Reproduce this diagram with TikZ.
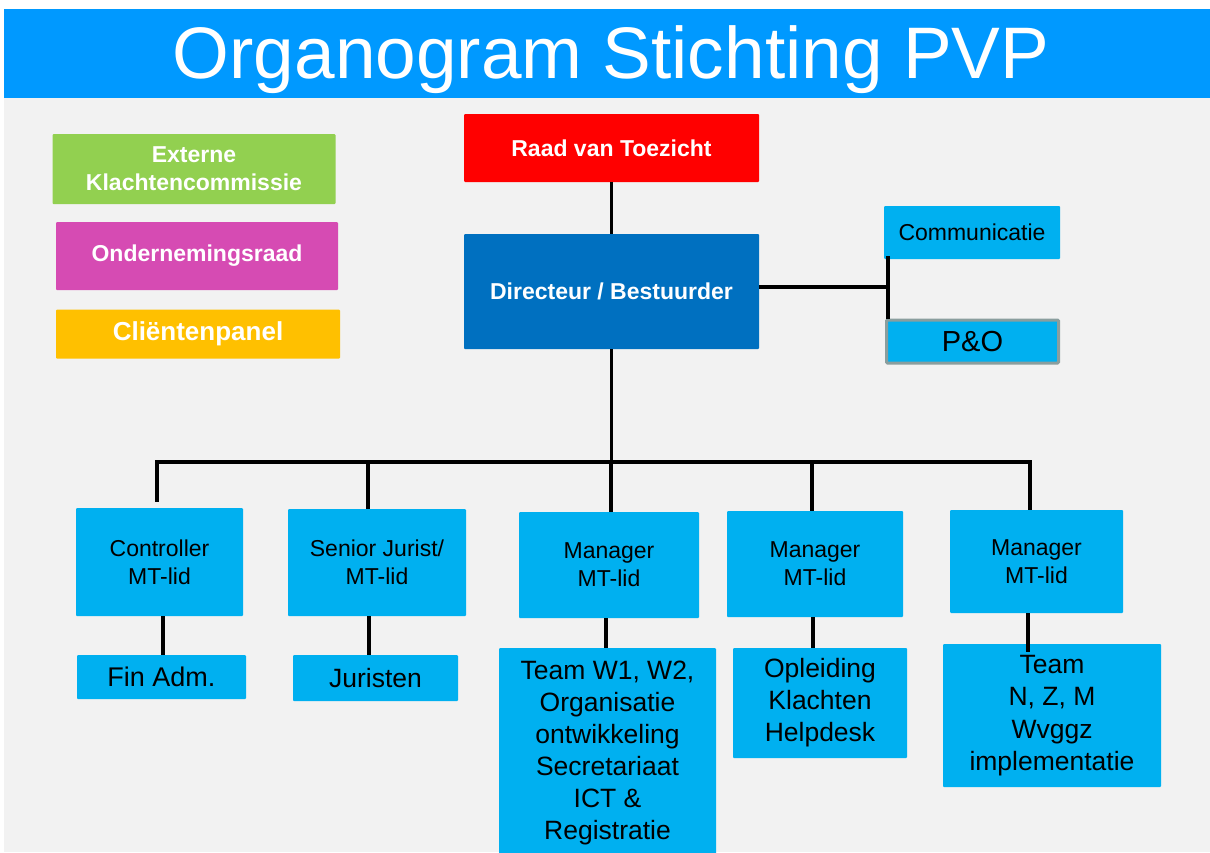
\documentclass[tikz,border=0pt]{standalone}
\usepackage{fontspec}
\setmainfont{Liberation Sans}
\usetikzlibrary{calc}
\definecolor{titleblue}{HTML}{0099FF}
\definecolor{bggray}{HTML}{F2F2F2}
\definecolor{lblue}{HTML}{00B0F0}
\definecolor{dblue}{HTML}{0070C0}
\definecolor{rvtred}{HTML}{FF0000}
\definecolor{lgreen}{HTML}{92D050}
\definecolor{magen}{HTML}{D64BB3}
\definecolor{amber}{HTML}{FFC000}
\definecolor{pogray}{HTML}{8A9E9E}
\begin{document}
\begin{tikzpicture}[x=1pt,y=-1pt,
  box/.style={inner sep=0pt, align=center, rounded corners=1pt},
  lb/.style={box, fill=lblue, text=black},
  mt/.style={lb, font=\fontsize{23}{28}\selectfont},
  sub/.style={lb, font=\fontsize{26.5}{32}\selectfont},
  leg/.style={box, text=white, font=\bfseries\fontsize{23}{28}\selectfont},
  conn/.style={line width=3.5pt, black}]
\useasboundingbox (0,0) rectangle (1210,852);
\fill[white] (0,0) rectangle (1210,852);
\fill[bggray] (4,98) rectangle (1210,852);
\fill[titleblue] (4,9) rectangle (1210,98);
\node[anchor=base, text=white, inner sep=0pt, font=\fontsize{73}{80}\selectfont] (title) at (611,78) {Organogram Stichting PVP};

% legend boxes
\node[leg, fill=lgreen, minimum width=283pt, minimum height=70pt] (ekc) at (194,169) {Externe\\Klachtencommissie};
\node[leg, fill=magen, minimum width=282pt, minimum height=68pt] (or) at (197,256) {Ondernemingsraad};
\node[leg, fill=amber, minimum width=284pt, minimum height=49pt, font=\bfseries\fontsize{26}{30}\selectfont] (cp) at (198,334) {Cliëntenpanel};

% top
\node[leg, fill=rvtred, minimum width=295pt, minimum height=68pt] (rvt) at (611.5,148) {Raad van Toezicht};
\node[leg, fill=dblue, minimum width=295pt, minimum height=115pt] (dir) at (611.5,291.5) {Directeur / Bestuurder};
\node[mt, minimum width=176pt, minimum height=53pt] (comm) at (972,232.5) {Communicatie};
\node[lb, draw=pogray, line width=3pt, minimum width=172pt, minimum height=43pt, font=\fontsize{29}{34}\selectfont] (po) at (972.5,341.5) {P\&O};

% managers
\node[mt, minimum width=167pt, minimum height=108pt] (ctrl) at (159.5,562) {Controller\\MT-lid};
\node[mt, minimum width=178pt, minimum height=107pt] (snr) at (377,562.5) {Senior Jurist/\\MT-lid};
\node[mt, minimum width=180pt, minimum height=106pt] (man1) at (609,565) {Manager\\MT-lid};
\node[mt, minimum width=176pt, minimum height=106pt] (man2) at (815,564) {Manager\\MT-lid};
\node[mt, minimum width=173pt, minimum height=103pt] (man3) at (1036.5,561.5) {Manager\\MT-lid};

% sub boxes
\node[sub, minimum width=169pt, minimum height=44pt, font=\fontsize{27}{32}\selectfont] (fin) at (161.5,677) {Fin Adm.};
\node[sub, minimum width=165pt, minimum height=46pt] (jur) at (375.5,678) {Juristen};
\node[sub, minimum width=217pt, minimum height=210pt] (team1) at (607.5,753) {Team W1, W2,\\Organisatie\\ontwikkeling\\Secretariaat\\ICT \&\\Registratie};
\node[sub, minimum width=174pt, minimum height=110pt] (opl) at (820,703) {Opleiding\\Klachten\\Helpdesk};
\node[sub, minimum width=218pt, minimum height=143pt, font=\fontsize{26.5}{32.5}\selectfont] (team3) at (1052,715.5) {Team\\N, Z, M\\Wvggz\\implementatie};

% connectors
\coordinate (cj) at (888,287);
\coordinate (barL) at (157,462);
\coordinate (barR) at (1030,462);
\draw[conn] (rvt) -- (dir);
\draw[conn] (dir.east |- cj) -- (cj);
\draw[conn] ([yshift=3pt]cj |- comm.south) -- (cj |- po.north);
\draw[conn] (dir.south) -- (dir.south |- barL);
\draw[conn] ($(barL |- ctrl.north)+(0,-6)$) -- (barL) -- (barR) -- (barR |- man3.north);
\draw[conn] ([xshift=-9pt]snr.north) -- ([xshift=-9pt]snr.north |- barL);
\draw[conn] ([xshift=2pt]man1.north) -- ([xshift=2pt]man1.north |- barL);
\draw[conn] ([xshift=-3pt]man2.north) -- ([xshift=-3pt]man2.north |- barL);
\draw[conn] ([xshift=1.5pt]fin.north) -- ([xshift=1.5pt]fin.north |- ctrl.south);
\draw[conn] ([xshift=-6.5pt]jur.north) -- ([xshift=-6.5pt]jur.north |- snr.south);
\draw[conn] ([xshift=-1.5pt]team1.north) -- ([xshift=-1.5pt]team1.north |- man1.south);
\draw[conn] ([xshift=-7pt]opl.north) -- ([xshift=-7pt]opl.north |- man2.south);
\draw[conn] ([xshift=-24pt,yshift=-8pt]team3.north) -- ([xshift=-24pt]team3.north |- man3.south);
\end{tikzpicture}
\end{document}
